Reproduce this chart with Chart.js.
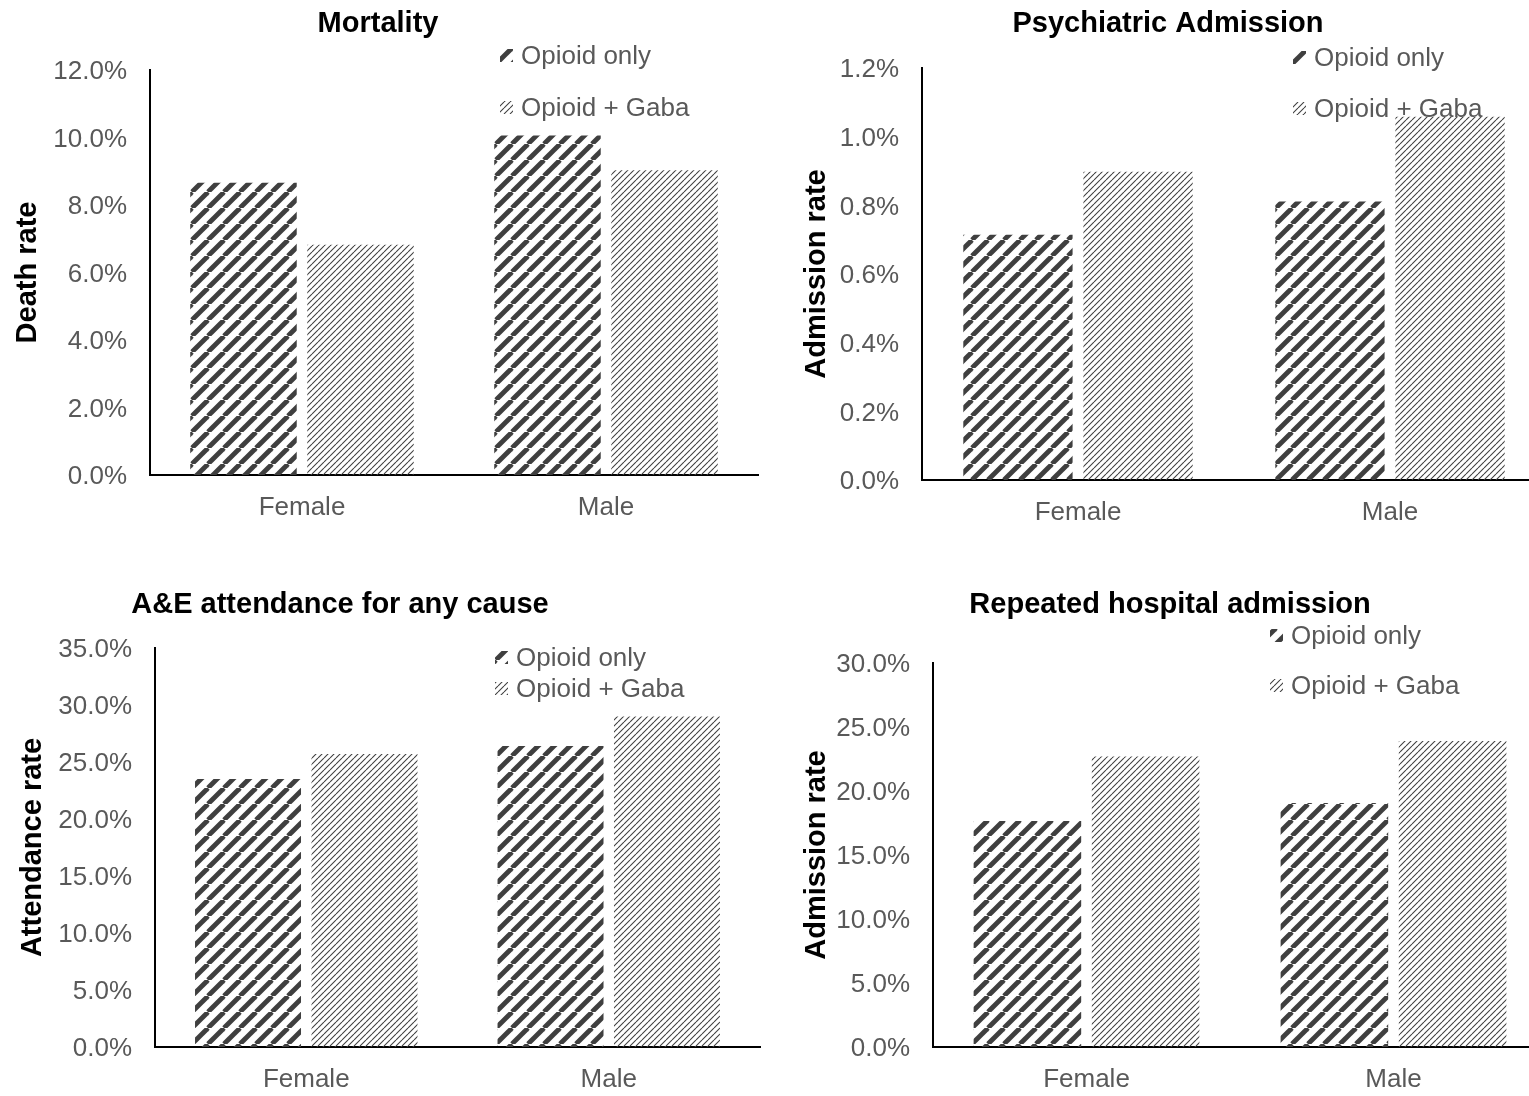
<!DOCTYPE html>
<html lang="en">
<head>
<meta charset="UTF-8">
<title>Outcomes by sex: opioid only vs opioid + gaba</title>
<script src="https://cdn.jsdelivr.net/npm/chart.js"></script>
<style>
    body {
        margin: 0;
        background: #fff;
        width: 1529px;
        height: 1096px;
        overflow: hidden;
        position: relative;
    }

    canvas {
        position: absolute;
    }
</style>
</head>
<body>
<canvas id="mortality" width="764" height="548" style="left:0;top:0"></canvas>
<canvas id="psychiatric" width="800" height="548" style="left:764px;top:0"></canvas>
<canvas id="attendance" width="764" height="548" style="left:0;top:548px"></canvas>
<canvas id="repeated" width="800" height="548" style="left:764px;top:548px"></canvas>
<script>
    // data (percent)
    const categories = ['Female', 'Male'];
    const seriesNames = ['Opioid only', 'Opioid + Gaba'];

    const mortalityOpioid = [8.66, 10.06];
    const mortalityGaba = [6.82, 9.03];
    const psychOpioid = [0.714, 0.811];
    const psychGaba = [0.898, 1.058];
    const attendanceOpioid = [23.5, 26.4];
    const attendanceGaba = [25.7, 29.0];
    const repeatedOpioid = [17.66, 19.06];
    const repeatedGaba = [22.7, 23.9];

    // y axis: [max, step]
    const mortalityAxis = [12, 2];
    const psychAxis = [1.2, 0.2];
    const attendanceAxis = [35, 5];
    const repeatedAxis = [30, 5];

    const FONT = '"Liberation Sans", Arial, sans-serif';

    function stripes(period, lineW, color) {
        const c = document.createElement('canvas');
        c.width = c.height = period;
        const g = c.getContext('2d');
        g.strokeStyle = color;
        g.lineWidth = lineW;
        for (const k of [-1, 0, 1]) {
            g.beginPath();
            g.moveTo(k * period, period);
            g.lineTo(k * period + period, 0);
            g.stroke();
        }
        return g.createPattern(c, 'repeat');
    }

    const wideStripes = stripes(16, 4.8, '#3f3f3f');
    const fineStripes = stripes(6, 1.05, '#404040');

    // title + legend drawn inside the panel
    const panelText = {
        id: 'panelText',
        afterDraw(chart, args, opts) {
            const ctx = chart.ctx;
            ctx.save();
            ctx.textBaseline = 'middle';
            ctx.textAlign = 'center';
            ctx.fillStyle = '#000';
            ctx.font = 'bold 29px ' + FONT;
            ctx.fillText(opts.title, opts.titleX, opts.titleY + 2);

            ctx.textAlign = 'left';
            ctx.font = '26px ' + FONT;
            chart.data.datasets.forEach((ds, i) => {
                const y = opts.legendY[i];
                ctx.fillStyle = ds.backgroundColor;
                ctx.fillRect(opts.legendX, y - 6, 13, 13);
                ctx.fillStyle = '#595959';
                ctx.fillText(ds.label, opts.legendX + 21, y + 2);
            });
            ctx.restore();
        }
    };

    function makeChart(id, opioid, gaba, axis, yTitle, box) {
        return new Chart(document.getElementById(id), {
            type: 'bar',
            data: {
                labels: categories,
                datasets: [
                    { label: seriesNames[0], data: opioid, backgroundColor: wideStripes, borderWidth: 0 },
                    { label: seriesNames[1], data: gaba, backgroundColor: fineStripes, borderWidth: 0 }
                ]
            },
            plugins: [panelText],
            options: {
                responsive: false,
                animation: false,
                categoryPercentage: 0.77,
                barPercentage: 0.91,
                layout: { padding: { top: box.top, right: box.right, left: 0, bottom: 0 } },
                plugins: {
                    legend: { display: false },
                    tooltip: { enabled: false },
                    panelText: {
                        title: box.title,
                        titleX: box.titleX,
                        titleY: box.titleY,
                        legendX: box.legendX,
                        legendY: box.legendY
                    }
                },
                scales: {
                    x: {
                        grid: { display: false, drawTicks: false },
                        border: { display: true, color: '#000', width: 2 },
                        ticks: { color: '#595959', font: { family: FONT, size: 26 }, padding: 17 },
                        afterFit(s) { s.height = box.xHeight; }
                    },
                    y: {
                        min: 0,
                        max: axis[0],
                        grid: { display: false, drawTicks: false },
                        border: { display: true, color: '#000', width: 2 },
                        ticks: {
                            stepSize: axis[1],
                            color: '#595959',
                            font: { family: FONT, size: 26 },
                            padding: 23,
                            labelOffset: 2,
                            callback: v => v.toFixed(1) + '%'
                        },
                        title: {
                            display: true,
                            text: yTitle,
                            color: '#000',
                            font: { family: FONT, size: 29, weight: 'bold' },
                            padding: { top: box.yTitlePad, bottom: 0 }
                        },
                        afterFit(s) { s.width = box.yWidth; }
                    }
                }
            }
        });
    }

    makeChart('mortality', mortalityOpioid, mortalityGaba, mortalityAxis, 'Death rate', {
        top: 70, right: 6, yWidth: 150, xHeight: 73, yTitlePad: 10.6,
        title: 'Mortality', titleX: 378, titleY: 22,
        legendX: 500, legendY: [55, 107]
    });

    makeChart('psychiatric', psychOpioid, psychGaba, psychAxis, 'Admission rate', {
        top: 68, right: 18, yWidth: 158, xHeight: 68, yTitlePad: 36,
        title: 'Psychiatric Admission', titleX: 404, titleY: 22,
        legendX: 529, legendY: [57, 108]
    });

    makeChart('attendance', attendanceOpioid, attendanceGaba, attendanceAxis, 'Attendance rate', {
        top: 100, right: 4, yWidth: 155, xHeight: 49, yTitlePad: 15.6,
        title: 'A&E attendance for any cause', titleX: 340, titleY: 55,
        legendX: 495, legendY: [109, 140]
    });

    makeChart('repeated', repeatedOpioid, repeatedGaba, repeatedAxis, 'Admission rate', {
        top: 115, right: 17, yWidth: 169, xHeight: 49, yTitlePad: 36,
        title: 'Repeated hospital admission', titleX: 406, titleY: 55,
        legendX: 506, legendY: [87, 137]
    });
</script>
</body>
</html>
